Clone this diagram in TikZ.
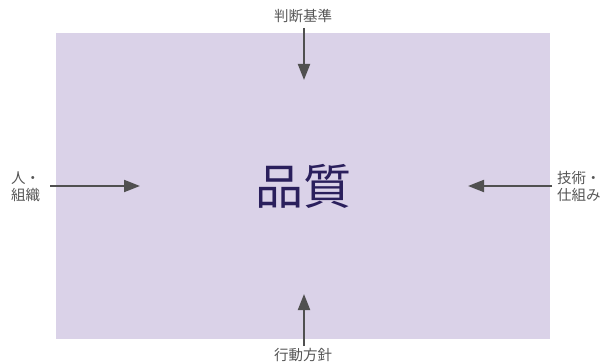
\documentclass[tikz,border=0pt]{standalone}
\usepackage{fontspec}
\newfontfamily\cjk{Noto Sans CJK JP}
\usetikzlibrary{arrows.meta}
\definecolor{boxfill}{HTML}{DAD2E8}
\definecolor{maintext}{HTML}{2A1F5C}
\definecolor{arrowgray}{HTML}{505050}
\definecolor{labelgray}{HTML}{555555}
\tikzset{
  lbl/.style={font=\cjk\fontsize{14.5}{17}\selectfont, text=labelgray, inner sep=0pt, align=left},
  arr/.style={draw=arrowgray, line width=2pt, -{Triangle[length=16pt,width=12pt]}}
}
\begin{document}
\begin{tikzpicture}[x=1pt,y=-1pt]
\useasboundingbox (0,0) rectangle (602,363);
\node[fill=boxfill, minimum width=494pt, minimum height=306pt, inner sep=0pt, anchor=north west] (box) at (56,33) {};
\node[font=\cjk\fontsize{48}{52}\selectfont, text=maintext, inner sep=0pt] (q) at (303,186) {品質};
\node[lbl, anchor=center] (top) at (303,16) {判断基準};
\node[lbl, anchor=center] (bot) at (303,355) {行動方針};
\node[lbl, anchor=west] (left) at (11,187) {人・\\組織};
\node[lbl, anchor=west] (right) at (557,187) {技術・\\仕組み};
\coordinate (ts) at (304,28);
\coordinate (te) at (304,80);
\coordinate (bs) at (304,346);
\coordinate (be) at (304,294);
\coordinate (ls) at (50,186);
\coordinate (le) at (140,186);
\coordinate (rs) at (552,186);
\coordinate (re) at (468,186);
\draw[arr] (ts) -- (te);
\draw[arr] (bs) -- (be);
\draw[arr] (ls) -- (le);
\draw[arr] (rs) -- (re);
\end{tikzpicture}
\end{document}
